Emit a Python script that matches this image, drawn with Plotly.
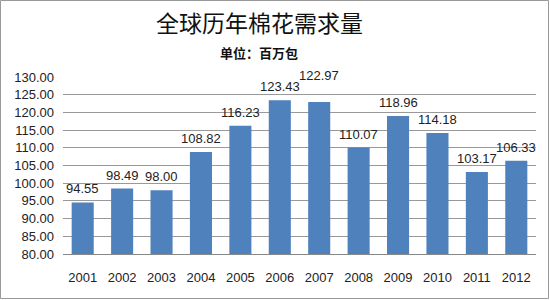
import plotly.graph_objects as go

years = ["2001", "2002", "2003", "2004", "2005", "2006", "2007", "2008", "2009", "2010", "2011", "2012"]
demand = [94.55, 98.49, 98.00, 108.82, 116.23, 123.43, 122.97, 110.07, 118.96, 114.18, 103.17, 106.33]
title_text = "全球历年棉花需求量"
subtitle_text = "单位：百万包"

W, H = 550, 300
L, R, T, B = 63, 14, 77, 46
pw, ph = W - L - R, H - T - B
cx = (259 - L) / pw
# extra lift for labels that would collide with a neighbour
label_lift = {"2007": 13}

fig = go.Figure(go.Bar(
    x=years, y=demand,
    marker=dict(color="#4F81BD", line=dict(width=0)),
    width=0.56,
))

annos = [
    dict(text=title_text, x=cx, y=1, xref="paper", yref="paper",
         xanchor="center", yanchor="middle", yshift=T - 22, showarrow=False,
         font=dict(family="Noto Sans CJK SC", size=23, color="#111")),
    dict(text="<b>" + subtitle_text + "</b>", x=cx, y=1, xref="paper", yref="paper",
         xanchor="center", yanchor="middle", yshift=T - 52, showarrow=False,
         font=dict(family="Noto Sans CJK SC", size=13, color="#111")),
]
for i, (yr, v) in enumerate(zip(years, demand)):
    annos.append(dict(text=f"{v:.2f}", x=i, y=v, xref="x", yref="y",
                      xanchor="center", yanchor="bottom",
                      yshift=4 + label_lift.get(yr, 0), showarrow=False,
                      font=dict(family="Liberation Sans, Arial", size=13, color="#222")))

fig.update_layout(
    width=W, height=H,
    margin=dict(l=L, r=R, t=T, b=B),
    paper_bgcolor="white", plot_bgcolor="white",
    showlegend=False,
    font=dict(family="Liberation Sans, Arial", size=13, color="#222"),
    xaxis=dict(type="category", range=[-0.5, len(years) - 0.5], showgrid=False,
               showline=True, linecolor="#888", linewidth=1,
               ticks="", tickfont=dict(size=13), ticklabelstandoff=11),
    yaxis=dict(range=[80, 130], dtick=5, tickformat=".2f", showgrid=True,
               gridcolor="#999", gridwidth=1, zeroline=False, showline=False,
               ticks="", tickfont=dict(size=13), ticklabelstandoff=8),
    annotations=annos,
    shapes=[dict(type="rect", xref="paper", yref="paper",
                 x0=(-L + 0.5) / pw, x1=(pw + R - 1.5) / pw,
                 y0=(-B + 1.5) / ph, y1=(ph + T - 0.5) / ph,
                 line=dict(color="#999", width=1), fillcolor="rgba(0,0,0,0)")],
)

fig.write_html("out.html")
